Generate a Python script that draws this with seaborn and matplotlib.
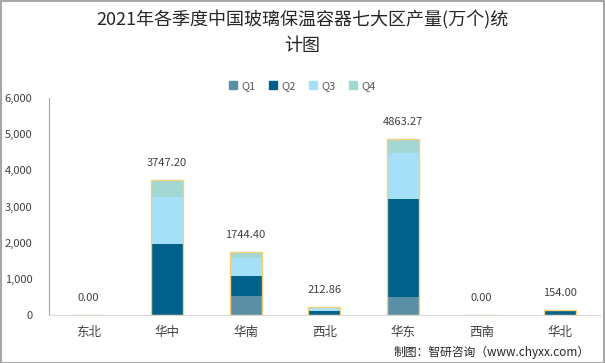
import numpy as np
import seaborn as sns
import matplotlib.pyplot as plt
from matplotlib.ticker import FuncFormatter
from matplotlib.patches import Rectangle

sns.set_style("white")
plt.rcParams['font.family'] = ['Noto Sans CJK SC', 'DejaVu Sans']

# data
regions = ['东北', '华中', '华南', '西北', '华东', '西南', '华北']
q1 = [0, 0, 525, 0, 506, 0, 0]
q2 = [0, 1960, 552, 120, 2698, 0, 140]
q3 = [0, 1300, 506, 92.86, 1271, 0, 14]
q4 = [0, 487.2, 161.4, 0, 388.27, 0, 0]
totals = [0.00, 3747.20, 1744.40, 212.86, 4863.27, 0.00, 154.00]
quarters = ['Q1', 'Q2', 'Q3', 'Q4']
colors = ['#5b8fa6', '#00628a', '#a6e0f8', '#a3d7d3']

fig = plt.figure(figsize=(6.05, 3.63), dpi=100)
ax = fig.add_axes([0.081, 0.132, 0.91, 0.598])

bottom = np.zeros(len(regions))
for vals, c in zip([q1, q2, q3, q4], colors):
    vals = np.array(vals, dtype=float)
    sns.barplot(x=regions, y=vals, bottom=bottom, color=c, width=0.41,
                saturation=1, linewidth=0, ax=ax)
    bottom += vals

# total outline series with value labels
sns.barplot(x=regions, y=totals, facecolor='none', edgecolor='#f5cf78',
            linewidth=1.0, width=0.41, ax=ax)
for i, t in enumerate(totals):
    ax.text(i, t + 330, f'{t:.2f}', ha='center', va='bottom',
            fontsize=8, color='#404040')

ax.set_ylim(0, 6000)
ax.set_yticks(range(0, 6001, 1000))
ax.yaxis.set_major_formatter(FuncFormatter(lambda v, p: f'{int(v):,}'))
ax.set_xlim(-0.5, len(regions) - 0.5)
ax.tick_params(axis='y', labelsize=8, colors='#404040', length=0, pad=12)
ax.tick_params(axis='x', labelsize=9, colors='#404040', length=0, pad=8)
for s in ['top', 'right']:
    ax.spines[s].set_visible(False)
ax.spines['left'].set_color('#a6a6a6')
ax.spines['left'].set_linewidth(0.8)
ax.spines['bottom'].set_color('#d9d9d9')
ax.spines['bottom'].set_linewidth(0.8)
ax.set_xlabel('')
ax.set_ylabel('')
if ax.get_legend() is not None:
    ax.get_legend().remove()

handles = [Rectangle((0, 0), 1, 1, color=c) for c in colors]
fig.legend(handles, quarters, loc='center', bbox_to_anchor=(0.5, 0.763),
           ncol=4, frameon=False, fontsize=8, handlelength=0.7,
           handleheight=0.7, handletextpad=0.4, columnspacing=1.2,
           labelcolor='#595959')

fig.text(0.5, 0.945, '2021年各季度中国玻璃保温容器七大区产量(万个)统',
         ha='center', va='center', fontsize=13, fontweight='medium', color='#262626')
fig.text(0.5, 0.872, '计图', ha='center', va='center', fontsize=13,
         fontweight='medium', color='#262626')
fig.text(0.975, 0.03, '制图：智研咨询（www.chyxx.com）', ha='right',
         va='center', fontsize=8.5, color='#262626')

fig.patches.append(Rectangle((0.001, 0.001), 0.997, 0.997, transform=fig.transFigure,
                             fill=False, edgecolor='#a6a6a6', linewidth=1.5))
fig.savefig('out.png', dpi=100)
